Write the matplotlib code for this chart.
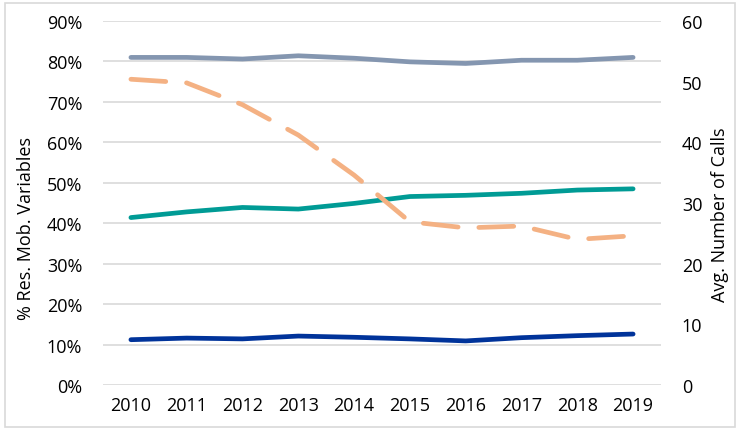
import matplotlib
matplotlib.use("Agg")
import matplotlib.pyplot as plt
from matplotlib.ticker import FuncFormatter, MultipleLocator
from matplotlib.patches import Rectangle

plt.rcParams['font.family'] = ['Open Sans', 'DejaVu Sans']

years = [2010, 2011, 2012, 2013, 2014, 2015, 2016, 2017, 2018, 2019]
series_grey = [81.0, 81.0, 80.6, 81.4, 80.8, 79.9, 79.5, 80.3, 80.3, 81.0]
series_teal = [41.4, 42.8, 43.9, 43.5, 44.9, 46.6, 46.9, 47.4, 48.2, 48.5]
series_navy = [11.2, 11.6, 11.4, 12.1, 11.8, 11.4, 10.9, 11.7, 12.2, 12.6]
avg_calls = [50.4, 49.8, 46.2, 41.2, 34.6, 26.9, 25.9, 26.2, 24.0, 24.6]

W, H = 741, 435
fig = plt.figure(figsize=(W / 100, H / 100), dpi=100)
x0, x1, y0, y1 = 103, 661, 386, 22
ax = fig.add_axes([x0 / W, (H - y0) / H, (x1 - x0) / W, (y0 - y1) / H])
ax2 = ax.twinx()

lw = 3.4
ax.plot(years, series_grey, color='#8496B0', lw=lw, solid_capstyle='round', zorder=3)
ax.plot(years, series_teal, color='#009B95', lw=lw, solid_capstyle='round', zorder=3)
ax.plot(years, series_navy, color='#00339A', lw=lw, solid_capstyle='round', zorder=3)
ax2.plot(years, avg_calls, color='#F4B183', lw=lw, dashes=(7.4, 4.4), dash_capstyle='round', zorder=3)

ax.set_ylim(0, 90)
ax.yaxis.set_major_locator(MultipleLocator(10))
ax.yaxis.set_major_formatter(FuncFormatter(lambda v, p: f"{int(round(v))}%"))
ax2.set_ylim(0, 60)
ax2.yaxis.set_major_locator(MultipleLocator(10))
ax.set_xlim(2009.5, 2019.5)
ax.set_xticks(years)
ax.set_xticklabels([str(y) for y in years])

ax.grid(axis='y', color='#D9D9D9', lw=1.2, zorder=0)
ax.set_axisbelow(True)
fs = 13
for a in (ax, ax2):
    for s in a.spines.values():
        s.set_visible(False)
    a.tick_params(length=0, labelsize=fs, colors='#000000')
ax.tick_params(axis='y', pad=15)
ax2.tick_params(axis='y', pad=15)
ax.tick_params(axis='x', pad=8)

fig.text(26 / W, (H - 228) / H, '% Res. Mob. Variables', rotation=90, ha='center', va='center', fontsize=fs)
fig.text(720 / W, (H - 215) / H, 'Avg. Number of Calls', rotation=90, ha='center', va='center', fontsize=fs)

fig.patches.append(Rectangle((5 / W, 7 / H), 730 / W, 424 / H, transform=fig.transFigure,
                             fill=False, edgecolor='#D9D9D9', lw=1.2))

fig.savefig('out.png', dpi=100)
